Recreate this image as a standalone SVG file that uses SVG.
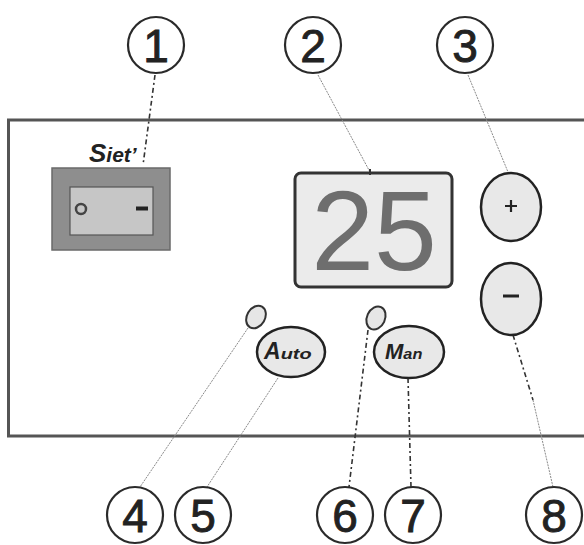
<svg xmlns="http://www.w3.org/2000/svg" width="584" height="545" viewBox="0 0 584 545">
<style>
.num{fill:#fff;stroke:#2a2a2a;stroke-width:2.2}
.numt{font-family:"Liberation Sans",Arial,sans-serif;font-size:46px;fill:#222;stroke:#222;stroke-width:0.9;text-anchor:middle}
.lead{fill:none;stroke:#8a8a8a;stroke-width:1;stroke-dasharray:2 1}
.leadd{fill:none;stroke:#333;stroke-width:1.6;stroke-dasharray:5 3 2 3}
.btn{fill:#e8e8e8;stroke:#222;stroke-width:2.5}
.led{fill:#e6e6e6;stroke:#333;stroke-width:2}
.lbl{font-family:"Liberation Sans",Arial,sans-serif;font-weight:bold;font-style:italic;fill:#222}
</style>
<rect width="584" height="545" fill="#fff"/>
<g id="panel">
<rect x="8.5" y="120" width="590" height="316" fill="none" stroke="#555" stroke-width="3"/>
</g>
<g id="connectors">
<path class="leadd" d="M155 75 L143 165"/>
<path class="lead" d="M318 75 L370 172"/>
<path class="lead" d="M468 75 L508 172"/>
<path class="lead" d="M248 328 L140 487"/>
<path class="lead" d="M278 378 L207 487"/>
<path class="leadd" d="M368 330 L349 487"/>
<path class="leadd" d="M408 378 L411 487"/>
<path class="leadd" d="M513 335 L533 400"/>
<path class="lead" d="M533 400 L553 487"/>
</g>
<g id="switch">
<rect x="52" y="168" width="118" height="82" fill="#8e8e8e" stroke="#6a6a6a" stroke-width="1.5"/>
<rect x="70" y="187" width="83" height="48" fill="#c6c6c6" stroke="#555" stroke-width="1.2"/>
<circle cx="81" cy="209" r="5" fill="none" stroke="#444" stroke-width="2.5"/>
<rect x="136" y="206.5" width="12" height="4" fill="#222"/>
<text class="lbl" x="89" y="162"><tspan font-size="26">S</tspan><tspan font-size="21">iet’</tspan></text>
</g>
<g id="display">
<rect x="295" y="173" width="157" height="114" rx="6" fill="#ebebeb" stroke="#333" stroke-width="3"/>
<line x1="370" y1="169" x2="370" y2="175" stroke="#333" stroke-width="2"/>
<text x="374" y="270" font-family="'Liberation Sans',Arial,sans-serif" font-size="113" fill="#6e6e6e" text-anchor="middle">25</text>
</g>
<g id="plus">
<ellipse class="btn" cx="511" cy="207" rx="30" ry="34"/>
<path d="M505 206 H517 M511 200 V212" stroke="#222" stroke-width="2.2"/>
</g>
<g id="minus">
<ellipse class="btn" cx="511" cy="299" rx="30" ry="36"/>
<path d="M503 296 H519" stroke="#222" stroke-width="3"/>
</g>
<g id="led4">
<ellipse class="led" cx="256" cy="317" rx="9" ry="12" transform="rotate(30 256 317)"/>
</g>
<g id="led6">
<ellipse class="led" cx="376" cy="318" rx="9" ry="12" transform="rotate(25 376 318)"/>
</g>
<g id="auto">
<ellipse class="btn" cx="291" cy="352" rx="34" ry="25"/>
<text class="lbl" x="264" y="359"><tspan font-size="23">A</tspan><tspan font-size="14" textLength="31" lengthAdjust="spacingAndGlyphs">uto</tspan></text>
</g>
<g id="man">
<ellipse class="btn" cx="409" cy="352" rx="35" ry="26"/>
<text class="lbl" x="385" y="359"><tspan font-size="22">M</tspan><tspan font-size="15" textLength="19" lengthAdjust="spacingAndGlyphs">an</tspan></text>
</g>
<g id="n1"><circle class="num" cx="156" cy="45" r="28"/><text class="numt" x="156" y="62">1</text></g>
<g id="n2"><circle class="num" cx="313" cy="45" r="28"/><text class="numt" x="313" y="62">2</text></g>
<g id="n3"><circle class="num" cx="465" cy="45" r="28"/><text class="numt" x="465" y="62">3</text></g>
<g id="n4"><circle class="num" cx="135" cy="515" r="28"/><text class="numt" x="135" y="532">4</text></g>
<g id="n5"><circle class="num" cx="203" cy="515" r="28"/><text class="numt" x="203" y="532">5</text></g>
<g id="n6"><circle class="num" cx="345" cy="515" r="28"/><text class="numt" x="345" y="532">6</text></g>
<g id="n7"><circle class="num" cx="413" cy="515" r="28"/><text class="numt" x="413" y="532">7</text></g>
<g id="n8"><circle class="num" cx="554" cy="515" r="28"/><text class="numt" x="554" y="532">8</text></g>
</svg>
